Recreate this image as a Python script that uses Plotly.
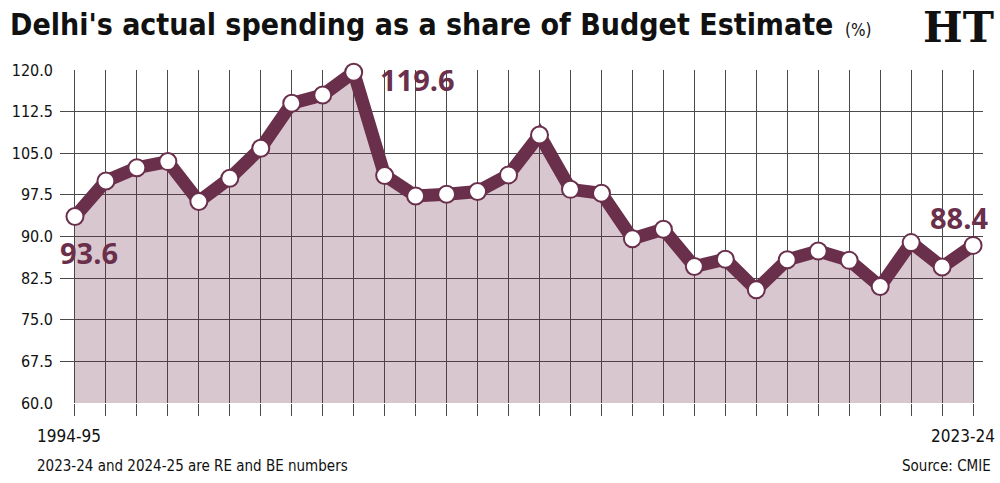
import plotly.graph_objects as go

years = [f"{y}-{str(y + 1)[-2:]}" for y in range(1994, 2024)]
values = [93.6, 100.0, 102.4, 103.5, 96.3, 100.5, 105.9, 114.0, 115.5, 119.6,
          101.0, 97.3, 97.6, 98.1, 101.1, 108.3, 98.5, 97.8, 89.6, 91.3,
          84.6, 85.9, 80.4, 85.8, 87.4, 85.7, 81.0, 88.9, 84.5, 88.4]
y_ticks = [60.0, 67.5, 75.0, 82.5, 90.0, 97.5, 105.0, 112.5, 120.0]

MAROON = "#6a2f4b"
NARROW = "Liberation Sans Narrow, DejaVu Sans Condensed, Arial Narrow, sans-serif"
xs = list(range(len(years)))

fig = go.Figure()
fig.add_trace(go.Scatter(
    x=xs, y=values, mode="lines+markers",
    fill="tozeroy", fillcolor="rgba(110,40,75,0.26)",
    line=dict(color=MAROON, width=13),
    marker=dict(size=17, color="white", line=dict(color=MAROON, width=2)),
    cliponaxis=False, hoverinfo="skip", showlegend=False,
))

labels = [(0, -17, -36, "left"), (9, 24, -7, "left"), (29, 17, 28, "right")]
for idx, xs_, ys_, anc in labels:
    fig.add_annotation(x=idx, y=values[idx], text=f"<b>{values[idx]:.1f}</b>",
                       showarrow=False, xanchor=anc, yanchor="middle",
                       xshift=xs_, yshift=ys_,
                       font=dict(family="Open Sans, sans-serif", size=29, color=MAROON))

# x-axis end labels
fig.add_annotation(x=0, y=0, xref="x", yref="paper", yshift=-33, xshift=-6,
                   text=years[0], showarrow=False, xanchor="center", yanchor="middle",
                   font=dict(family=NARROW, size=17, color="#111111"))
fig.add_annotation(x=len(years) - 1, y=0, xref="x", yref="paper", yshift=-33, xshift=24,
                   text=years[-1], showarrow=False, xanchor="right", yanchor="middle",
                   font=dict(family=NARROW, size=17, color="#111111"))

fig.add_annotation(xref="paper", yref="paper", x=-0.056, y=1.0, yshift=46,
                   text="<b>Delhi's actual spending as a share of Budget Estimate</b>",
                   showarrow=False, xanchor="left", yanchor="middle",
                   font=dict(family=NARROW, size=30, color="#111111"))
fig.add_annotation(xref="paper", yref="paper", x=0.865, y=1.0, yshift=40,
                   text="(%)", showarrow=False, xanchor="center", yanchor="middle",
                   font=dict(family=NARROW, size=17, color="#111111"))
fig.add_annotation(xref="paper", yref="paper", x=1.014, y=1.0, yshift=43,
                   text="<b>HT</b>", showarrow=False, xanchor="right", yanchor="middle",
                   font=dict(family="DejaVu Serif, serif", size=42, color="#111111"))
fig.add_annotation(xref="paper", yref="paper", x=-0.027, y=0, yshift=-63,
                   text="2023-24 and 2024-25 are RE and BE numbers",
                   showarrow=False, xanchor="left", yanchor="middle",
                   font=dict(family=NARROW, size=15, color="#111111"))
fig.add_annotation(xref="paper", yref="paper", x=1.011, y=0, yshift=-63,
                   text="Source: CMIE", showarrow=False, xanchor="right", yanchor="middle",
                   font=dict(family=NARROW, size=15, color="#111111"))

fig.update_xaxes(range=[-0.483, 29.32], tickmode="array", tickvals=xs,
                 ticktext=[""] * len(xs),
                 showgrid=True, gridcolor="#4a4a4a", gridwidth=1, zeroline=False,
                 ticks="outside", ticklen=12, tickcolor="#4a4a4a", tickwidth=1,
                 showline=False)
fig.update_yaxes(range=[60, 120], tickmode="array", tickvals=y_ticks,
                 ticktext=[f"{v:.1f}" for v in y_ticks],
                 showgrid=True, gridcolor="#4a4a4a", gridwidth=1, zeroline=False,
                 showline=False, ticks="", ticklabelstandoff=6,
                 tickfont=dict(family=NARROW, size=16, color="#111111"))

fig.update_layout(width=1000, height=483, margin=dict(l=60, r=17, t=70, b=80),
                  plot_bgcolor="white", paper_bgcolor="white")
fig.write_html("out.html")
